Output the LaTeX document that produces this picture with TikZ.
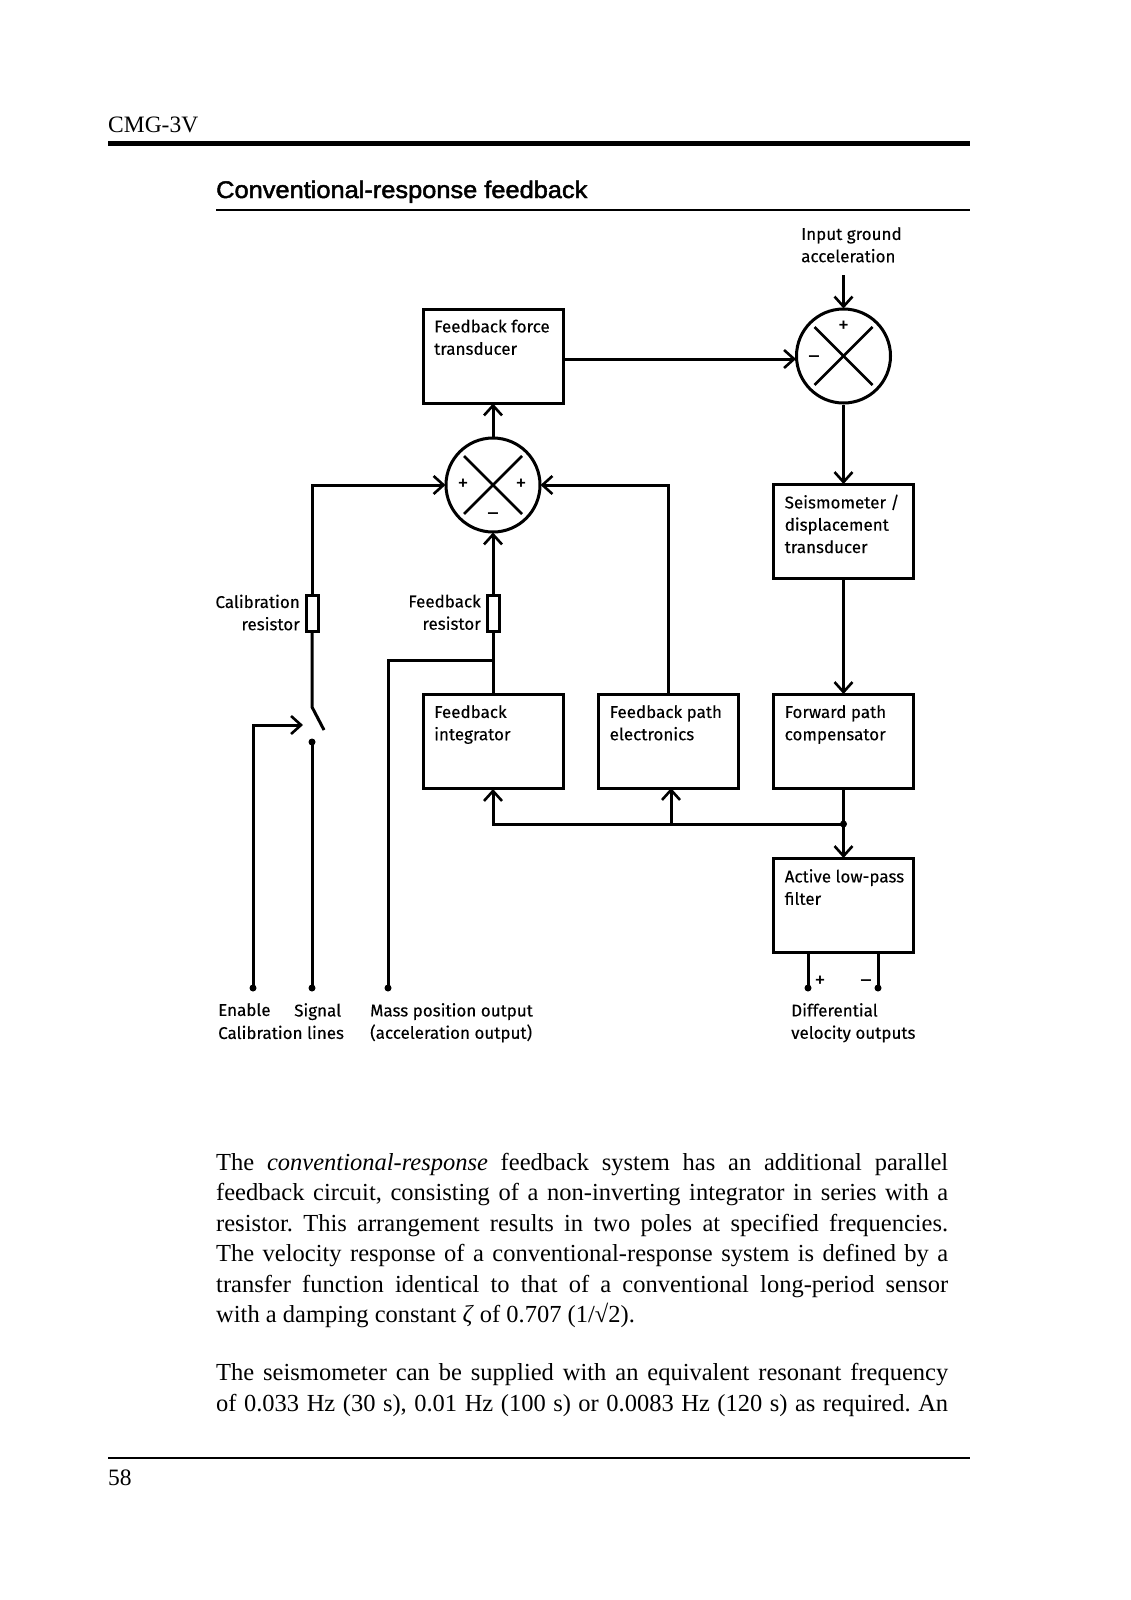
\documentclass[tikz,border=0pt]{standalone}
\usepackage{fontspec}
\setmainfont{Liberation Serif}
\setsansfont{Liberation Sans}
\newfontfamily\lab[FakeBold=0.15]{Fira Sans}
\newfontfamily\labthin{Fira Sans}
\newfontfamily\ttlf[FakeBold=2,FakeStretch=1.058]{Liberation Sans}
\usetikzlibrary{arrows.meta}
\frenchspacing
\tikzset{
 wire/.style={line width=3pt},
 arr/.style={wire,-{Straight Barb[length=10pt,width=18pt,line width=2.6pt]},shorten >=-1pt},
 blockbox/.style={draw,line width=3pt,minimum width=140pt,minimum height=94pt,inner sep=0pt},
 sumnode/.style={draw,circle,line width=3pt,minimum size=94pt,inner sep=0pt},
 resbox/.style={draw,line width=3pt,minimum width=12pt,minimum height=36pt,inner sep=0pt},
 lbl/.style={font=\lab\fontsize{17}{22.3}\selectfont,inner sep=0pt,align=left,anchor=north west},
 lblr/.style={lbl,align=right,anchor=north east},
 sgn/.style={font=\labthin\fontsize{22}{22}\selectfont,inner sep=0pt},
 pdot/.style={circle,fill,inner sep=0pt,minimum size=7pt},
 body/.style={font=\fontsize{24.5}{30}\selectfont,inner sep=0pt,anchor=base west},
}
\newcommand{\jl}[1]{\makebox[732pt][s]{#1}}
\begin{document}
\begin{tikzpicture}[x=1pt,y=-1pt]
\useasboundingbox (0,0) rectangle (1131,1600);
\fill[white] (0,0) rectangle (1131,1600);
% header
\node[font=\fontsize{23.5}{24}\selectfont,inner sep=0pt,anchor=base west] (hdr) at (108,132) {CMG-3V};
\coordinate (r1a) at (108,143); \coordinate (r1b) at (970,143);
\draw[line width=5pt] (r1a) -- (r1b);
\node[font=\ttlf\fontsize{24}{24}\selectfont,inner sep=0pt,anchor=base west] (ttl) at (216,198) {Conventional-response feedback};
\coordinate (r2a) at (216,210); \coordinate (r2b) at (970,210);
\draw[line width=1.6pt] (r2a) -- (r2b);
% blocks
\node[blockbox] (ff) at (493,356) {};
\node[blockbox] (seis) at (843.5,531.5) {};
\node[blockbox] (fi) at (493,741.5) {};
\node[blockbox] (fp) at (668.5,741.5) {};
\node[blockbox] (fw) at (843.5,741.5) {};
\node[blockbox] (lp) at (843.5,905.5) {};
\node[sumnode] (s1) at (843.5,356) {};
\node[sumnode] (s2) at (493,485) {};
\node[resbox] (rc) at (312,613) {};
\node[resbox] (rf) at (493,613) {};
\foreach \s in {s1,s2}{
 \draw[line width=2.6pt] (\s.center)++(-29,-29) -- ++(58,58);
 \draw[line width=2.6pt] (\s.center)++(29,-29) -- ++(-58,58);
}
% block labels
\node[lbl] (t1) at ([shift={(12.5,12)}]ff.north west) {Feedback force\\transducer};
\node[lbl] (t2) at ([shift={(12.5,11.5)}]seis.north west) {Seismometer /\\displacement\\transducer};
\node[lbl] (t3) at ([shift={(12.5,12)}]fi.north west) {Feedback\\integrator};
\node[lbl] (t4) at ([shift={(12.5,12)}]fp.north west) {Feedback path\\electronics};
\node[lbl] (t5) at ([shift={(12.5,12)}]fw.north west) {Forward path\\compensator};
\node[lbl] (t6) at ([shift={(12.5,12)}]lp.north west) {Active low-pass\\filter};
% signs
\node[sgn] (p1) at (843.5,327) {+};
\node[sgn] (m1) at (814,360) {–};
\node[sgn] (p2) at (463,485) {+};
\node[sgn] (p3) at (521,485) {+};
\node[sgn] (m2) at (493,517) {–};
\node[sgn] (p4) at (820,982) {+};
\node[sgn] (m3) at (866,984) {–};
% free labels
\node[lbl] (ig) at (801,227) {Input ground\\acceleration};
\node[lblr] (lc) at (300,594.5) {Calibration\\resistor};
\node[lblr] (lf) at (481,594.5) {Feedback\\resistor};
\node[lbl] (le) at (218,1003) {Enable};
\node[lbl] (ls) at (294,1003) {Signal};
\node[lbl] (lcl) at (218,1025.5) {Calibration lines};
\node[lbl] (lm) at (370,1003) {Mass position output\\(acceleration output)};
\node[lbl] (ld) at (791,1003) {Differential\\velocity outputs};
% coordinates
\coordinate (in) at (843.5,275);
\node[pdot] (den) at (253,988) {};
\node[pdot] (dsi) at (312,988) {};
\node[pdot] (dma) at (388,988) {};
\node[pdot] (dsw) at (312,742) {};
\node[pdot] (dp) at (808,988) {};
\node[pdot] (dm) at (878,988) {};
\node[pdot] (dj) at (843.5,824) {};
\coordinate (swa) at (312,707);
\coordinate (swb) at (324,730);
\coordinate (ffo) at (ff.east |- 0,359);
\coordinate (s1i) at (s1.west |- 0,359);
\coordinate (bj) at (493,824);
\coordinate (bm) at (671,824);
\coordinate (bt) at (671,789);
\coordinate (c1) at (668.5,485);
\coordinate (c2) at (312,485);
\coordinate (c3) at (493,660);
\coordinate (c4) at (388,660);
\coordinate (c5) at (253,725);
\coordinate (c6) at (302,725);
% connectors
\draw[arr] (in) -- (s1.north);
\draw[arr] (ffo) -- (s1i);
\draw[arr] (s1.south) -- (seis.north);
\draw[arr] (seis.south) -- (fw.north);
\draw[arr] (s2.north) -- (ff.south);
\draw[wire] (fw.south) -- (dj.center);
\draw[arr] (dj.center) -- (lp.north);
\draw[arr] (dj.center) -- (bj) -- (fi.south);
\draw[arr] (bm) -- (bt);
\draw[arr] (fp.north) -- (c1) -- (s2.east);
\draw[arr] (rc.north) -- (c2) -- (s2.west);
\draw[arr] (rf.north) -- (s2.south);
\draw[wire] (fi.north) -- (rf.south);
\draw[wire] (c3) -- (c4) -- (dma.center);
\draw[wire] (rc.south) -- (swa) -- (swb);
\draw[wire] (dsi.center) -- (dsw.center);
\draw[arr] (den.center) -- (c5) -- (c6);
\draw[wire] (dp.center) -- (dp.center |- lp.south);
\draw[wire] (dm.center) -- (dm.center |- lp.south);
% body
\node[body] (b1) at (216,1170) {\jl{The \textit{conventional-response} feedback system has an additional parallel}};
\node[body] (b2) at (216,1200.5) {\jl{feedback circuit, consisting of a non-inverting integrator in series with a}};
\node[body] (b3) at (216,1231) {\jl{resistor. This arrangement results in two poles at specified frequencies.}};
\node[body] (b4) at (216,1261.5) {\jl{The velocity response of a conventional-response system is defined by a}};
\node[body] (b5) at (216,1292) {\jl{transfer function identical to that of a conventional long-period sensor}};
\node[body] (b6) at (216,1322.5) {with a damping constant \textit{ζ} of 0.707 (1/√2).};
\node[body] (b7) at (216,1380.5) {\jl{The seismometer can be supplied with an equivalent resonant frequency}};
\node[body] (b8) at (216,1411) {\jl{of 0.033 Hz (30 s), 0.01 Hz (100 s) or 0.0083 Hz (120 s) as required. An}};
\coordinate (r3a) at (108,1458); \coordinate (r3b) at (970,1458);
\draw[line width=1.8pt] (r3a) -- (r3b);
\node[font=\fontsize{23.5}{24}\selectfont,inner sep=0pt,anchor=base west] (pg) at (108,1485) {58};
\end{tikzpicture}
\end{document}
